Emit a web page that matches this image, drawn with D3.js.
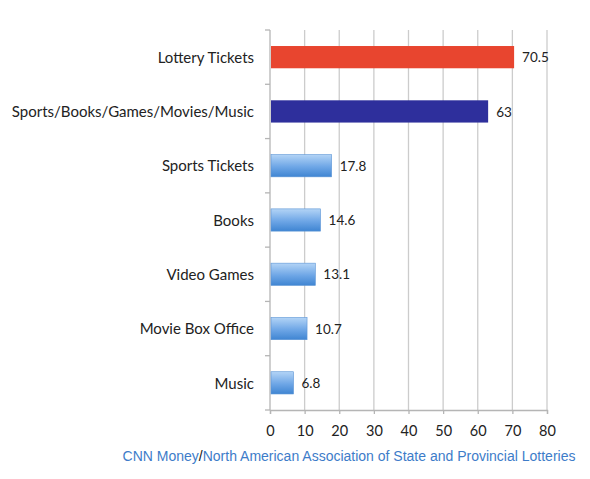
<!DOCTYPE html>
<html>
<head>
<meta charset="utf-8">
<script src="https://cdn.jsdelivr.net/npm/d3@7"></script>
<style>
  body { margin: 0; background: #fff; }
  svg text { font-family: "Open Sans", "Noto Sans", sans-serif; fill: #222; }
</style>
</head>
<body>
<div id="chart"></div>
<script>
"use strict";

const categories = ["Lottery Tickets", "Sports/Books/Games/Movies/Music", "Sports Tickets", "Books", "Video Games", "Movie Box Office", "Music"];
const values = [70.5, 63, 17.8, 14.6, 13.1, 10.7, 6.8];
const valueLabels = ["70.5", "63", "17.8", "14.6", "13.1", "10.7", "6.8"];
const xTicks = [0, 10, 20, 30, 40, 50, 60, 70, 80];

const width = 590;
const height = 479;
const margin = { top: 30, right: 43, bottom: 69, left: 270 };

const svg = d3
  .select("#chart")
  .append("svg")
  .attr("width", width)
  .attr("height", height);

const defs = svg.append("defs");
const grad = defs
  .append("linearGradient")
  .attr("id", "blueGrad")
  .attr("x1", 0).attr("y1", 0).attr("x2", 0).attr("y2", 1);
grad.append("stop").attr("offset", "0%").attr("stop-color", "#b3d4f6");
grad.append("stop").attr("offset", "55%").attr("stop-color", "#6ea6e6");
grad.append("stop").attr("offset", "100%").attr("stop-color", "#3f85d2");

const x = d3.scaleLinear().domain([0, 80]).range([margin.left, width - margin.right]);
const y = d3
  .scaleBand()
  .domain(categories)
  .range([margin.top, height - margin.bottom])
  .paddingInner(0.59)
  .paddingOuter(0.295);

// grille verticale
svg
  .append("g")
  .selectAll("line")
  .data(xTicks.slice(1))
  .join("line")
  .attr("x1", (d) => x(d))
  .attr("x2", (d) => x(d))
  .attr("y1", margin.top)
  .attr("y2", height - margin.bottom)
  .attr("stroke", "#cccccc")
  .attr("stroke-width", 1.3);

// axe x
const xAxis = svg
  .append("g")
  .attr("transform", `translate(0, ${height - margin.bottom})`)
  .call(d3.axisBottom(x).tickValues(xTicks).tickSize(4).tickPadding(12));
xAxis.select(".domain").attr("stroke", "#b5b5b5").attr("stroke-width", 1.3);
xAxis.selectAll(".tick line").attr("stroke", "#b5b5b5").attr("stroke-width", 1.3);
xAxis
  .selectAll(".tick text")
  .style("font-size", "14.5px")
  .style("font-family", "Lato, sans-serif")
  .attr("fill", "#222");

// axe y : ligne + petits traits entre catégories
const boundaries = categories.map((c) => y(c) - (y.step() * y.paddingInner()) / 2);
boundaries.push(height - margin.bottom);
svg
  .append("line")
  .attr("x1", margin.left)
  .attr("x2", margin.left)
  .attr("y1", margin.top)
  .attr("y2", height - margin.bottom)
  .attr("stroke", "#b5b5b5")
  .attr("stroke-width", 1.3);
svg
  .append("g")
  .selectAll("line")
  .data(boundaries)
  .join("line")
  .attr("x1", margin.left - 5)
  .attr("x2", margin.left)
  .attr("y1", (d) => d)
  .attr("y2", (d) => d)
  .attr("stroke", "#b5b5b5")
  .attr("stroke-width", 1.3);

// libellés des catégories
svg
  .append("g")
  .selectAll("text")
  .data(categories)
  .join("text")
  .attr("x", margin.left - 16)
  .attr("y", (d) => y(d) + y.bandwidth() / 2)
  .attr("dy", "0.38em")
  .attr("text-anchor", "end")
  .style("font-family", "Lato, sans-serif")
  .style("font-size", "15px")
  .text((d) => d);

const barColor = (i) => (i === 0 ? "#e8452f" : i === 1 ? "#2e2f9c" : "url(#blueGrad)");

// barres
svg
  .append("g")
  .selectAll("rect")
  .data(values)
  .join("rect")
  .attr("x", x(0) + 1)
  .attr("y", (d, i) => y(categories[i]))
  .attr("width", (d) => x(d) - x(0) - 1)
  .attr("height", y.bandwidth())
  .attr("fill", (d, i) => barColor(i))
  .attr("stroke", (d, i) => (i > 1 ? "#5d95d6" : "none"))
  .attr("stroke-width", 0.6);

// valeurs au bout des barres
svg
  .append("g")
  .selectAll("text")
  .data(values)
  .join("text")
  .attr("x", (d) => x(d) + 8)
  .attr("y", (d, i) => y(categories[i]) + y.bandwidth() / 2)
  .attr("dy", "0.38em")
  .style("font-family", "Lato, sans-serif")
  .style("font-size", "13.5px")
  .text((d, i) => valueLabels[i]);

// source
const src = svg
  .append("text")
  .attr("x", 349)
  .attr("y", 461)
  .attr("text-anchor", "middle")
  .style("font-family", '"Liberation Sans", Arial, sans-serif')
  .style("font-size", "14px");
src.append("tspan").attr("fill", "#3d7cc9").text("CNN Money");
src.append("tspan").attr("fill", "#111").text("/");
src.append("tspan").attr("fill", "#3d7cc9").text("North American Association of State and Provincial Lotteries");
</script>
</body>
</html>
